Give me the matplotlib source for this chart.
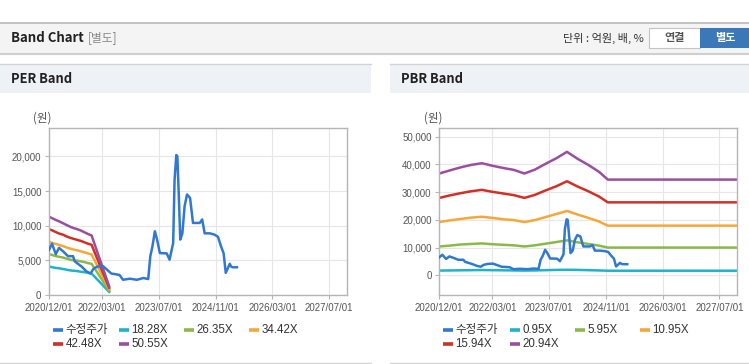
import pandas as pd
import matplotlib.pyplot as plt
from matplotlib.patches import Rectangle
from matplotlib.lines import Line2D

plt.rcParams['font.family'] = ['Liberation Sans', 'Noto Sans CJK KR', 'DejaVu Sans']
KR = ['Noto Sans CJK KR', 'DejaVu Sans']

#####################
# Data
#####################

# adjusted price (수정주가), won
price_dates = ['2020-12-01', '2020-12-27', '2021-01-28', '2021-02-25', '2021-04-01', '2021-05-13',
               '2021-06-25', '2021-07-10', '2021-09-07', '2021-10-19', '2021-11-22', '2021-12-16',
               '2022-01-19', '2022-03-07', '2022-05-19', '2022-07-28', '2022-08-28', '2022-10-25',
               '2022-12-25', '2023-02-19', '2023-04-01', '2023-04-19', '2023-05-07', '2023-05-28',
               '2023-06-16', '2023-07-10', '2023-09-07', '2023-10-01', '2023-11-01', '2023-11-13',
               '2023-11-28', '2023-12-07', '2023-12-19', '2024-01-01', '2024-01-19', '2024-02-07',
               '2024-02-28', '2024-03-25', '2024-04-19', '2024-06-16', '2024-07-07', '2024-07-28',
               '2024-09-10', '2024-10-22', '2024-11-19', '2024-12-16', '2025-01-07', '2025-01-25',
               '2025-02-13', '2025-02-28', '2025-03-13', '2025-03-25', '2025-05-01']
price_vals = [6500, 7400, 5900, 6800, 6300, 5600,
              5600, 4850, 4100, 3400, 3100, 3750,
              4100, 4200, 3100, 2900, 2200, 2350,
              2200, 2450, 2300, 5600, 7000, 9200,
              8000, 6050, 6000, 5100, 7500, 16600,
              20200, 20000, 14500, 8000, 8900, 12800,
              14500, 14000, 10400, 10400, 10900, 8900,
              8900, 8700, 8400, 7000, 6000, 3200,
              3900, 4500, 4100, 4000, 4000]

# PER band
per_dates = ['2020-12-01', '2021-01-01', '2021-02-01', '2021-03-01', '2021-04-01', '2021-05-01',
             '2021-06-01', '2021-07-01', '2021-08-01', '2021-09-01', '2021-10-01', '2021-11-01',
             '2021-12-01', '2022-05-01']
per_labels = ['18.28X', '26.35X', '34.42X', '42.48X', '50.55X']
per_18 = [4100, 4000, 3900, 3850, 3750, 3650, 3550, 3500, 3450, 3350, 3300, 3200, 3100, 450]
per_26 = [5900, 5750, 5600, 5500, 5400, 5250, 5100, 5000, 4950, 4850, 4750, 4600, 4500, 650]
per_34 = [7700, 7500, 7350, 7200, 7050, 6850, 6700, 6550, 6450, 6300, 6150, 6000, 5850, 850]
per_42 = [9500, 9300, 9050, 8850, 8700, 8450, 8250, 8100, 7950, 7800, 7600, 7400, 7250, 1050]
per_50 = [11300, 11050, 10800, 10600, 10350, 10100, 9850, 9650, 9500, 9300, 9050, 8800, 8600, 1250]

# PBR band
pbr_dates = ['2020-12-01', '2021-03-01', '2021-06-01', '2021-09-01', '2021-12-01', '2022-03-01',
             '2022-06-01', '2022-09-01', '2022-12-01', '2023-03-01', '2023-06-01', '2023-09-01',
             '2023-12-01', '2024-03-01', '2024-06-01', '2024-09-01', '2024-11-15', '2027-12-31']
pbr_labels = ['0.95X', '5.95X', '10.95X', '15.94X', '20.94X']
pbr_0 = [1700, 1750, 1800, 1850, 1900, 1850, 1800, 1750, 1700, 1750, 1850, 1950,
         2000, 1950, 1850, 1750, 1650, 1650]
pbr_5 = [10400, 10700, 11100, 11300, 11500, 11200, 11000, 10800, 10400, 10800, 11400, 12000,
         12600, 11900, 11300, 10700, 10000, 10000]
pbr_10 = [19200, 19800, 20300, 20800, 21100, 20700, 20200, 19900, 19200, 19900, 21000, 22100,
          23200, 21900, 20700, 19400, 17900, 17900]
pbr_15 = [27900, 28800, 29600, 30300, 30800, 30100, 29500, 28900, 27900, 29000, 30600, 32100,
          33900, 32000, 30300, 28400, 26300, 26300]
pbr_20 = [36700, 37800, 38900, 39800, 40400, 39500, 38700, 38000, 36700, 38100, 40200, 42200,
          44500, 42000, 39800, 37300, 34500, 34500]

tick_dates = ['2020-12-01', '2022-03-01', '2023-07-01', '2024-11-01', '2026-03-01', '2027-07-01']
price_label = '수정주가'

colors = ['#1db4c9', '#8cb84a', '#f5a83a', '#d22f27', '#9a4f9d']
price_color = '#3178d2'

#####################
# Figure / page chrome
#####################

W, H = 749, 364
fig = plt.figure(figsize=(W / 100, H / 100), dpi=100)
fig.patch.set_facecolor('white')


def box(x0, y0, x1, y1, fc, ec='none', lw=0):
    fig.add_artist(Rectangle((x0 / W, 1 - y1 / H), (x1 - x0) / W, (y1 - y0) / H,
                             transform=fig.transFigure, facecolor=fc, edgecolor=ec, linewidth=lw))


def hline(x0, x1, y, color, lw=1):
    fig.add_artist(Line2D([x0 / W, x1 / W], [1 - y / H, 1 - y / H], transform=fig.transFigure,
                          color=color, linewidth=lw))


def text(x, y, s, **kw):
    fig.text(x / W, 1 - y / H, s, va='center', **kw)


# top header bar
box(0, 23, W, 53, '#f4f4f4')
hline(0, W, 22.5, '#b9b9b9', 1.2)
hline(0, W, 53.5, '#cfcfcf', 1.5)
text(11, 38, 'Band Chart', family=KR, fontsize=9.5, fontweight='bold', color='#222222')
text(88, 38, '[별도]', family=KR, fontsize=8.5, color='#888888')
text(644, 38, '단위 : 억원, 배, %', family=KR, fontsize=8, color='#333333', ha='right')
box(649, 28, 700, 48, 'white', '#c4c4c4', 0.8)
text(675, 38, '연결', family=KR, fontsize=8, color='#555555', ha='center', fontweight='bold')
box(700, 28, 752, 48, '#3a78b8')
text(725, 38, '별도', family=KR, fontsize=8, color='white', ha='center', fontweight='bold')

# panel headers
for x0, x1, title in [(0, 371, 'PER Band'), (390, W, 'PBR Band')]:
    box(x0, 64, x1, 93, '#eef1f6')
    hline(x0, x1, 64, '#d3d3d3', 1)
    hline(x0, x1, 363, '#d3d3d3', 1)
    text(x0 + 11, 79, title, family=KR, fontsize=9.3, fontweight='bold', color='#222222')

#####################
# Charts
#####################

def setup(ax, ylim, yticks):
    ax.set_xlim(pd.Timestamp('2020-12-01'), pd.Timestamp('2027-12-01'))
    ax.set_ylim(*ylim)
    ax.set_xticks(pd.to_datetime(tick_dates))
    ax.set_xticklabels([d.replace('-', '/') for d in tick_dates])
    ax.set_yticks(yticks)
    ax.set_yticklabels([f'{v:,}' for v in yticks])
    ax.grid(True, color='#e6e6e6', linewidth=0.8)
    ax.set_axisbelow(True)
    for s in ax.spines.values():
        s.set_color('#b5b5b5')
        s.set_linewidth(1)
    ax.tick_params(axis='both', length=3, width=0.8, color='#b5b5b5', labelsize=7,
                   labelcolor='#555555', pad=2.5)
    ax.set_facecolor('white')


def legend(xs, ys, labels, cols):
    for (x, y), lab, c in zip([(xs[i % 4], ys[i // 4]) for i in range(len(labels))], labels, cols):
        fig.add_artist(Line2D([x / W, (x + 10) / W], [1 - y / H, 1 - y / H], transform=fig.transFigure,
                              color=c, linewidth=2.6, solid_capstyle='butt'))
        text(x + 12.5, y, lab, fontsize=8.3, color='#333333')


axL = fig.add_axes([49 / W, 1 - 295 / H, 298 / W, 167 / H])
setup(axL, (0, 24100), [0, 5000, 10000, 15000, 20000])
axL.plot(pd.to_datetime(price_dates), price_vals, color=price_color, lw=1.8, zorder=5)
for vals, c in zip([per_18, per_26, per_34, per_42, per_50], colors):
    axL.plot(pd.to_datetime(per_dates), vals, color=c, lw=1.8)
text(33, 118, '(원)', family=KR, fontsize=8.3, color='#555555')
legend([53, 119, 184, 249], [330, 344], [price_label] + per_labels, [price_color] + colors)

axR = fig.add_axes([439.3 / W, 1 - 295 / H, 298 / W, 167 / H])
setup(axR, (-7100, 53100), [0, 10000, 20000, 30000, 40000, 50000])
for vals, c in zip([pbr_0, pbr_5, pbr_10, pbr_15, pbr_20], colors):
    axR.plot(pd.to_datetime(pbr_dates), vals, color=c, lw=1.8)
axR.plot(pd.to_datetime(price_dates), price_vals, color=price_color, lw=1.8, zorder=5)
text(424, 118, '(원)', family=KR, fontsize=8.3, color='#555555')
legend([443, 510, 575, 640], [330, 344], [price_label] + pbr_labels, [price_color] + colors)

fig.savefig('out.png', dpi=100)
